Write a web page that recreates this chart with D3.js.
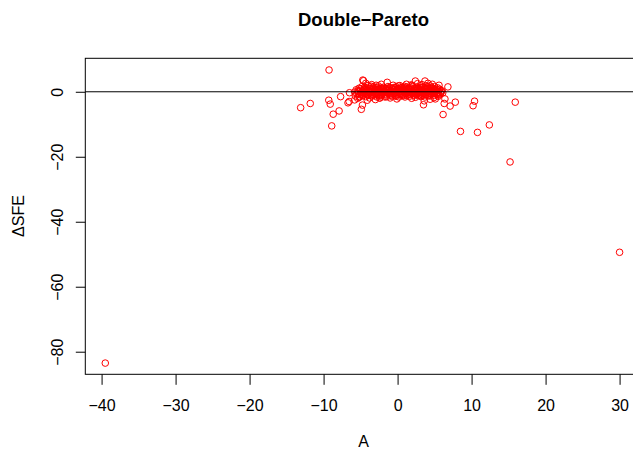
<!DOCTYPE html>
<html><head><meta charset="utf-8">
<script src="https://cdn.jsdelivr.net/npm/d3@7"></script>
<style>body{margin:0;background:#fff}svg{display:block}text{font-family:"Liberation Sans",Arial,sans-serif}</style>
</head><body>
<script>
const title = "Double\u2212Pareto";
const xLabel = "A";
const yLabel = "\u0394SFE";
const xTicks = [-40, -30, -20, -10, 0, 10, 20, 30];
const yTicks = [-80, -60, -40, -20, 0];

// outlying points [A, ΔSFE]
const outliers = [
  [-39.5,-83.5],[30.0,-49.4],[15.2,-21.6],[8.5,-12.2],[10.8,-12.5],[12.4,-10.2],
  [15.9,-3.2],[10.4,-2.9],[10.2,-4.3],[6.15,-7.0],[7.1,-4.4],[7.8,-3.2],
  [6.4,-2.2],[6.3,-3.6],[6.8,1.5],[3.5,-4.0],[-9.26,6.7],[-13.1,-4.9],
  [-11.8,-3.6],[-9.3,-2.6],[-9.1,-3.8],[-7.7,-1.5],[-7.9,-5.9],[-8.7,-6.9],
  [-8.9,-10.5],[-6.5,-0.3],[-6.7,-3.4],[-6.55,-3.0],[-4.9,-5.4],[-4.75,-4.1],
  [-4.7,3.6],[-2.4,-1.9],[-5.4,-2.0],[-5.1,-1.5]
];
// dense central cluster [A, ΔSFE]
const cluster = [
  [-4.6,3.4],[-4.3,2.6],[-3.5,2.2],[-1.4,2.9],[-0.6,2.0],[1.2,2.3],[2.4,3.3],[2.7,2.5],[3.7,3.3],[4.1,2.6],
  [4.7,2.3],[5.6,2.0],[0.3,1.9],[1.8,2.1],[-2.2,2.3],
  [-5.2,1.1],[-4.8,1.6],[-4.1,1.3],[-3.6,1.7],[-3.0,1.2],[-2.6,1.8],[-1.9,1.4],[-1.3,1.6],[-0.8,1.1],[-0.2,1.5],
  [0.5,1.3],[0.9,1.7],[1.5,1.2],[2.0,1.6],[2.6,1.1],[3.1,1.8],[3.5,1.3],[4.0,1.5],[4.5,1.1],[5.0,1.6],
  [5.4,1.2],[-2.3,1.0],[0.1,1.8],[1.1,1.0],[3.8,1.9],
  [-5.6,0.6],[-5.0,0.4],[-4.5,0.8],[-4.0,0.5],[-3.6,0.9],[-3.2,0.3],[-2.8,0.7],[-2.4,0.5],[-2.0,0.9],[-1.6,0.4],
  [-1.2,0.8],[-0.9,0.3],[-0.5,0.7],[-0.1,0.5],[0.3,0.9],[0.7,0.4],[1.0,0.7],[1.4,0.3],[1.8,0.8],[2.2,0.5],
  [2.5,0.9],[2.9,0.4],[3.3,0.7],[3.6,0.3],[4.0,0.8],[4.4,0.5],[4.8,0.7],[5.2,0.4],[5.7,0.8],[6.0,0.3],
  [-5.8,-0.1],[-5.3,0.1],[-4.9,-0.2],[-4.4,0.2],[-3.9,-0.1],[-3.4,0.0],[-3.0,-0.2],[-2.6,0.1],[-2.2,-0.1],[-1.8,0.2],
  [-1.4,-0.2],[-1.0,0.1],[-0.6,-0.1],[-0.2,0.2],[0.2,-0.2],[0.6,0.1],[0.9,-0.1],[1.3,0.2],[1.7,-0.2],[2.1,0.1],
  [2.4,-0.1],[2.8,0.2],[3.2,-0.2],[3.5,0.1],[3.9,-0.1],[4.3,0.2],[4.7,-0.2],[5.1,0.1],[5.5,-0.1],[5.9,0.2],
  [-5.5,-0.6],[-5.1,-0.9],[-4.6,-0.5],[-4.2,-0.8],[-3.7,-0.4],[-3.3,-0.9],[-2.9,-0.6],[-2.5,-0.8],[-2.1,-0.4],[-1.7,-0.7],
  [-1.3,-0.5],[-0.9,-0.9],[-0.5,-0.6],[-0.1,-0.8],[0.3,-0.5],[0.7,-0.9],[1.1,-0.6],[1.5,-0.8],[1.9,-0.4],[2.3,-0.7],
  [2.7,-0.5],[3.0,-0.9],[3.4,-0.6],[3.8,-0.8],[4.2,-0.4],[4.6,-0.7],[5.0,-0.5],[5.4,-0.9],[5.8,-0.6],
  [-5.7,-1.3],[-5.2,-1.7],[-4.7,-1.2],[-4.3,-1.5],[-3.8,-1.9],[-3.4,-1.3],[-2.8,-1.6],[-2.2,-1.2],[-1.5,-1.5],[-0.7,-1.3],
  [0.2,-1.6],[0.8,-1.2],[1.6,-1.4],[2.4,-1.7],[3.1,-1.2],[3.7,-1.6],[4.3,-1.3],[4.9,-1.8],[5.5,-1.4],[-2.4,-1.9],
  [-1.0,-1.9],[1.9,-2.0],[-5.8,-2.5],[-4.1,-2.6],[-3.0,-2.4],[4.4,-2.3],[3.6,-2.8],[5.1,-2.2],[-0.1,-2.2],
  [-4.4,1.0],[-3.9,0.3],[-3.3,1.4],[-2.7,-0.3],[-2.1,1.2],[-1.6,-1.0],[-1.1,1.3],[-0.4,-0.3],[0.1,1.0],[0.6,-1.1],
  [1.2,1.5],[1.6,0.5],[2.2,-1.1],[2.6,1.4],[3.0,0.1],[3.4,-1.1],[3.9,1.1],[4.3,-0.9],[4.6,1.4],[5.3,-0.4],
  [-4.8,-1.0],[-4.2,-0.3],[-3.5,-1.2],[-3.1,0.6],[-2.4,-1.3],[-1.9,0.6],[-1.5,1.0],[-0.8,-0.4],[-0.3,1.1],[0.4,0.1],
  [0.9,1.3],[1.3,-0.4],[1.8,1.2],[2.3,-0.3],[2.8,1.0],[3.2,-1.5],[3.7,0.5],[4.1,-1.2],[4.5,0.2],[5.0,0.9],
  [-5.3,-0.5],[-4.0,1.9],[-2.9,2.0],[-1.7,-1.6],[-0.2,-1.4],[1.0,-1.6],[2.0,2.0],[3.3,2.2],[4.4,1.8],[5.6,-1.0],
  [-5.0,0.9],[-4.7,0.2],[-4.3,-0.4],[-3.8,1.0],[-3.5,0.5],[-3.1,-0.5],[-2.7,1.3],[-2.3,0.2],[-1.9,-0.3],[-1.5,0.6],
  [-1.1,-0.6],[-0.7,0.9],[-0.3,-0.5],[0.0,0.3],[0.4,-0.9],[0.8,1.0],[1.2,-0.2],[1.5,0.8],[1.9,0.1],[2.3,1.1],
  [2.6,-0.8],[3.0,0.6],[3.3,-0.3],[3.7,1.2],[4.0,0.0],[4.4,-0.6],[4.8,0.3],[5.2,-0.7],[5.6,0.5],[6.1,-0.3],
  [-5.4,0.3],[-4.9,-0.6],[-4.5,1.3],[-4.0,-1.1],[-3.6,-0.2],[-3.2,1.0],[-2.8,-1.0],[-2.5,0.8],[-2.1,-0.8],[-1.7,1.1],
  [-1.3,0.2],[-0.9,-1.3],[-0.6,0.5],[-0.2,-1.1],[0.2,0.6],[0.5,-0.4],[0.9,0.3],[1.3,-1.1],[1.6,0.9],[2.0,-0.6],
  [2.4,0.4],[2.8,-1.2],[3.1,1.3],[3.5,-0.4],[3.9,0.9],[4.2,-0.1],[4.6,1.0],[5.0,-1.1],[5.3,0.7],[5.8,-0.3],
  [-3.9,-0.7],[-2.6,-0.5],[-1.4,0.5],[-0.5,1.3],[0.6,0.8],[1.7,-0.9],[2.9,-0.2],[4.1,0.6],[-4.6,0.5],[4.9,-0.2]
];

const W = 633, H = 449;
const svg = d3.select("body").append("svg").attr("width", W).attr("height", H);
const pLeft = 85.3, pTop = 58.3, pBottom = 374.3;
const x = d3.scaleLinear().domain([-42.2, 33.0]).range([pLeft, pLeft + 75.2 * 7.4]);
const y = d3.scaleLinear().domain([-86.95, 10.3]).range([pBottom, pTop]);
const pRight = x.range()[1];
const font = '"Liberation Sans",Arial,sans-serif';

const pts = outliers.concat(cluster);
svg.append("g").selectAll("circle").data(pts).join("circle")
  .attr("cx", d => x(d[0])).attr("cy", d => y(d[1])).attr("r", 3.3)
  .attr("fill", "none").attr("stroke", "#ff0000").attr("stroke-width", 1);

// horizontal reference line at 0
svg.append("line").attr("x1", pLeft).attr("x2", pRight).attr("y1", y(0)).attr("y2", y(0))
  .attr("stroke", "#000").attr("stroke-width", 1);

// box
svg.append("rect").attr("x", pLeft).attr("y", pTop).attr("width", pRight - pLeft).attr("height", pBottom - pTop)
  .attr("fill", "none").attr("stroke", "#000").attr("stroke-width", 1);

const fmt = d3.format("d");
const gx = svg.append("g").attr("transform", `translate(0,${pBottom})`)
  .call(d3.axisBottom(x).tickValues(xTicks).tickSize(10.5).tickFormat(fmt).tickSizeOuter(0));
gx.select(".domain").remove();
gx.selectAll(".tick line").attr("stroke", "#000");
gx.selectAll("text").attr("font-size", 16).attr("fill", "#000").attr("font-family", font)
  .attr("y", 37).attr("dy", 0);

const gy = svg.append("g").attr("transform", `translate(${pLeft},0)`)
  .call(d3.axisLeft(y).tickValues(yTicks).tickSize(9.5).tickFormat(fmt).tickSizeOuter(0));
gy.select(".domain").remove();
gy.selectAll(".tick line").attr("stroke", "#000");
gy.selectAll(".tick text").attr("font-size", 16).attr("fill", "#000").attr("font-family", font)
  .attr("transform", "rotate(-90)").attr("x", 0).attr("y", -22.6).attr("dy", 0).attr("text-anchor", "middle");

svg.append("text").attr("x", (pLeft + pRight) / 2).attr("y", 25.5).attr("text-anchor", "middle")
  .attr("font-size", 18.5).attr("font-weight", "bold").text(title);
svg.append("text").attr("x", (pLeft + pRight) / 2).attr("y", 446.5).attr("text-anchor", "middle")
  .attr("font-size", 16).text(xLabel);
svg.append("text").attr("transform", `translate(24,216) rotate(-90)`).attr("text-anchor", "middle")
  .attr("font-size", 16).text(yLabel);
</script>
</body></html>
